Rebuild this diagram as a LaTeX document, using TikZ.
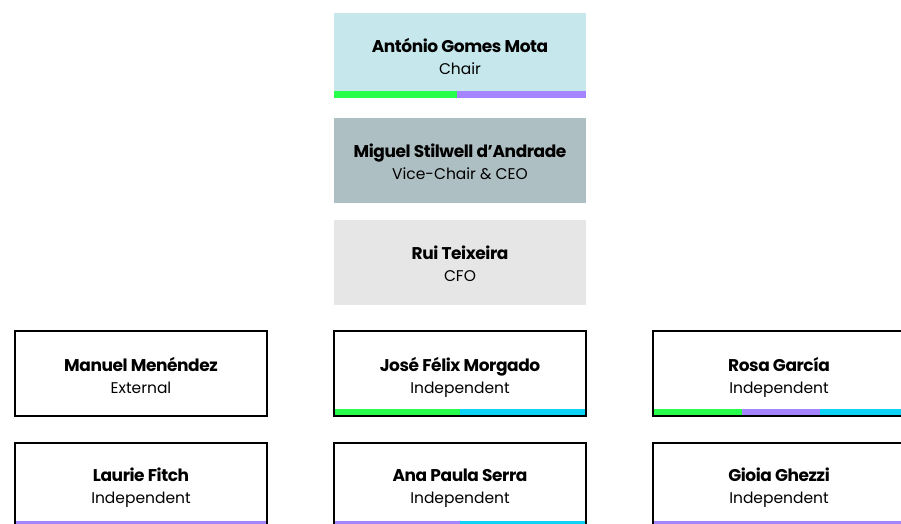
\documentclass[tikz,border=0pt]{standalone}
\usepackage{fontspec}
\setmainfont{Poppins}
\newfontfamily\namefont[LetterSpace=-2.5]{Poppins}
\usetikzlibrary{calc}
\definecolor{chairfill}{HTML}{C6E7EB}
\definecolor{vicefill}{HTML}{AEBFC3}
\definecolor{cfofill}{HTML}{E6E6E6}
\definecolor{bgreen}{HTML}{27FF4A}
\definecolor{bpurple}{HTML}{A584FF}
\definecolor{bcyan}{HTML}{0DD3F7}
\begin{document}
\begin{tikzpicture}[x=1pt,y=-1pt,
  card/.style={rectangle, minimum width=252pt, minimum height=85pt, inner sep=0pt, outer sep=0pt},
  nametext/.style={anchor=base, inner sep=0pt, font=\namefont\fontsize{17}{19}\selectfont\bfseries},
  roletext/.style={anchor=base, inner sep=0pt, font=\fontsize{15.5}{18}\selectfont},
]
\useasboundingbox (0,0) rectangle (901,524);
\clip (0,0) rectangle (901,524);

% filled top boxes
\node[card, fill=chairfill] (chair) at (460,56) {};
\node[card, fill=vicefill] (vice) at (460,160.5) {};
\node[card, fill=cfofill] (cfo) at (460,262.5) {};

% bars for chair
\fill[bgreen] (chair.south west) rectangle ($([yshift=7pt]chair.south west)!0.488!([yshift=7pt]chair.south east)$);
\fill[bpurple] ($(chair.south west)!0.488!(chair.south east)$) rectangle ([yshift=7pt]chair.south east);

% framed boxes
\node[card] (manuel) at (141,373.5) {};
\node[card] (jose) at (460,373.5) {};
\node[card] (rosa) at (779,373.5) {};
\node[card] (laurie) at (141,485) {};
\node[card] (ana) at (460,485) {};
\node[card] (gioia) at (779,485) {};

% bars
\fill[bgreen] (jose.south west) rectangle ($([yshift=7pt]jose.south west)!0.5!([yshift=7pt]jose.south east)$);
\fill[bcyan] ($(jose.south west)!0.5!(jose.south east)$) rectangle ([yshift=7pt]jose.south east);

\fill[bgreen] (rosa.south west) rectangle ($([yshift=7pt]rosa.south west)!0.353!([yshift=7pt]rosa.south east)$);
\fill[bpurple] ($(rosa.south west)!0.353!(rosa.south east)$) rectangle ($([yshift=7pt]rosa.south west)!0.663!([yshift=7pt]rosa.south east)$);
\fill[bcyan] ($(rosa.south west)!0.663!(rosa.south east)$) rectangle ([yshift=7pt]rosa.south east);

\fill[bpurple] (laurie.south west) rectangle ([yshift=7pt]laurie.south east);

\fill[bpurple] (ana.south west) rectangle ($([yshift=7pt]ana.south west)!0.5!([yshift=7pt]ana.south east)$);
\fill[bcyan] ($(ana.south west)!0.5!(ana.south east)$) rectangle ([yshift=7pt]ana.south east);

\fill[bpurple] (gioia.south west) rectangle ([yshift=7pt]gioia.south east);

% borders
\foreach \b in {manuel,jose,rosa,laurie,ana,gioia}
  \draw[line width=2pt] (\b.north west) rectangle (\b.south east);

% texts
\node[nametext] (chairN) at ([yshift=3.5pt]chair.center) {António Gomes Mota};
\node[roletext] (chairR) at ([yshift=-18.5pt]chair.center) {Chair};
\node[nametext] (viceN) at ([yshift=3.5pt]vice.center) {Miguel Stilwell d’Andrade};
\node[roletext] (viceR) at ([yshift=-19pt]vice.center) {Vice-Chair \& CEO};
\node[nametext] (cfoN) at ([yshift=3.5pt]cfo.center) {Rui Teixeira};
\node[roletext] (cfoR) at ([yshift=-18.5pt]cfo.center) {CFO};

\node[nametext] (manuelN) at ([yshift=2.5pt]manuel.center) {Manuel Menéndez};
\node[roletext] (manuelR) at ([yshift=-19.5pt]manuel.center) {External};
\node[nametext] (joseN) at ([yshift=2.5pt]jose.center) {José Félix Morgado};
\node[roletext] (joseR) at ([yshift=-19.5pt]jose.center) {Independent};
\node[nametext] (rosaN) at ([yshift=2.5pt]rosa.center) {Rosa García};
\node[roletext] (rosaR) at ([yshift=-19.5pt]rosa.center) {Independent};

\node[nametext] (laurieN) at ([yshift=3.5pt]laurie.center) {Laurie Fitch};
\node[roletext] (laurieR) at ([yshift=-18.5pt]laurie.center) {Independent};
\node[nametext] (anaN) at ([yshift=3.5pt]ana.center) {Ana Paula Serra};
\node[roletext] (anaR) at ([yshift=-18.5pt]ana.center) {Independent};
\node[nametext] (gioiaN) at ([yshift=3.5pt]gioia.center) {Gioia Ghezzi};
\node[roletext] (gioiaR) at ([yshift=-18.5pt]gioia.center) {Independent};
\end{tikzpicture}
\end{document}
